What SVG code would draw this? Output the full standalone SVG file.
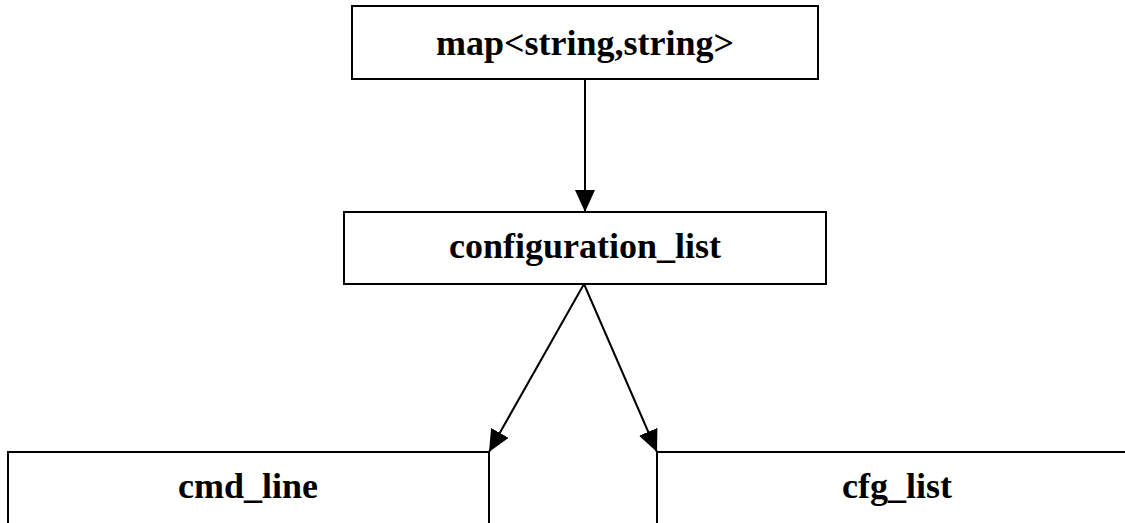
<svg xmlns="http://www.w3.org/2000/svg" width="1125" height="523" viewBox="0 0 1125 523">
  <style>
    .box { fill: #ffffff; stroke: #000000; stroke-width: 2; }
    .label { font-family: "Liberation Serif", "Times New Roman", serif; font-weight: bold; font-size: 36px; fill: #000000; text-anchor: middle; }
    .edge { stroke: #000000; stroke-width: 2; fill: none; marker-end: url(#arrow); }
  </style>
  <defs>
    <marker id="arrow" markerWidth="22" markerHeight="20" refX="22" refY="10" orient="auto" markerUnits="userSpaceOnUse">
      <path d="M0,0 L22,10 L0,20 Z" fill="#000000"/>
    </marker>
  </defs>
  <rect width="1125" height="523" fill="#ffffff"/>

  <g id="node-map">
    <rect class="box" x="352" y="6" width="466" height="73"/>
    <text class="label" x="585" y="55">map&lt;string,string&gt;</text>
  </g>

  <g id="node-configuration-list">
    <rect class="box" x="344" y="212" width="482" height="72"/>
    <text class="label" x="585" y="258">configuration_list</text>
  </g>

  <g id="node-cmd-line">
    <rect class="box" x="8" y="452" width="481" height="90"/>
    <text class="label" x="248" y="498">cmd_line</text>
  </g>

  <g id="node-cfg-list">
    <rect class="box" x="657" y="452" width="481" height="90"/>
    <text class="label" x="897" y="498">cfg_list</text>
  </g>

  <g id="connectors">
    <line class="edge" x1="585" y1="79" x2="585" y2="212"/>
    <line class="edge" x1="584" y1="284" x2="489" y2="452"/>
    <line class="edge" x1="584" y1="284" x2="657" y2="452"/>
  </g>
</svg>
